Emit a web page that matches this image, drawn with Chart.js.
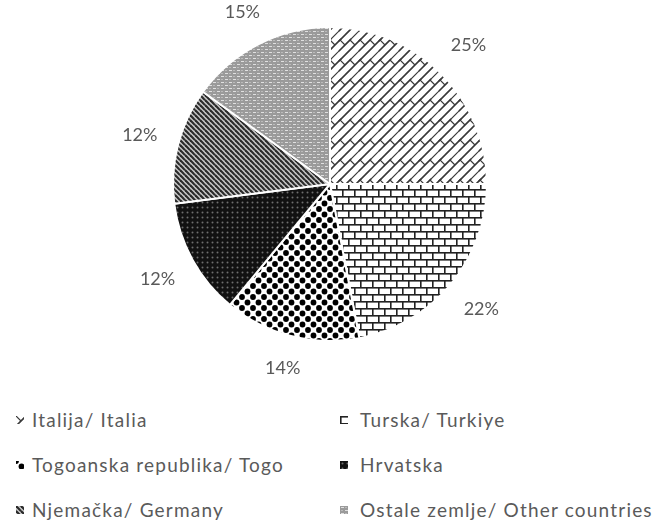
<!DOCTYPE html>
<html>
<head>
<meta charset="utf-8">
<script src="https://cdn.jsdelivr.net/npm/chart.js@4/dist/chart.umd.min.js"></script>
<style>
  body { margin: 0; background: #fff; }
  #wrap { position: relative; width: 660px; height: 522px; }
  #pie { position: absolute; left: 0; top: 0; }
  .item { position: absolute; height: 24px; line-height: 24px; font: 19px Lato, sans-serif; letter-spacing: 1.2px; color: #5a5a5a; white-space: nowrap; }
  .item canvas { position: absolute; top: 8px; }
</style>
</head>
<body>
<div id="wrap">
  <canvas id="pie" width="660" height="392"></canvas>
  <div id="legend"></div>
</div>
<script>
// udio po zemljama (%)
const zemlje = ["Italija/ Italia", "Turska/ Turkiye", "Togoanska republika/ Togo", "Hrvatska", "Njemačka/ Germany", "Ostale zemlje/ Other countries"];
const udio = [25, 22, 14, 12, 12, 15];

// pattern helper - draws one tile and repeats it
function uzorak(w, h, crtaj) {
    const c = document.createElement("canvas");
    c.width = w; c.height = h;
    const g = c.getContext("2d");
    crtaj(g, w, h);
    return g.createPattern(c, "repeat");
}

// draw a segment in the tile and its wrapped copies
function seg(g, w, h, x1, y1, x2, y2) {
    for (const ox of [-w, 0, w]) {
        for (const oy of [-h, 0, h]) {
            g.beginPath();
            g.moveTo(x1 + ox, y1 + oy);
            g.lineTo(x2 + ox, y2 + oy);
            g.stroke();
        }
    }
}

const s = 10;
const uzorci = [
    // dijagonalna cigla
    uzorak(2 * s, 2 * s, (g, w, h) => {
        g.fillStyle = "#fff"; g.fillRect(0, 0, w, h);
        g.strokeStyle = "#3a3a3a"; g.lineWidth = 1.2;
        for (let c = 0; c <= 4 * s; c += s) seg(g, w, h, -1, c + 1, c + 1, -1);
        seg(g, w, h, 0, 0, s / 2, s / 2);
        seg(g, w, h, s, 0, s + s / 2, s / 2);
    }),
    // vodoravna cigla
    uzorak(12, 14, (g, w, h) => {
        g.fillStyle = "#fff"; g.fillRect(0, 0, w, h);
        g.fillStyle = "#222";
        g.fillRect(0, 0, w, 1.6);
        g.fillRect(0, 7, w, 1.6);
        g.fillRect(0, 0, 1.6, 7);
        g.fillRect(6, 7, 1.6, 7);
    }),
    // krupne točke
    uzorak(11, 11, (g, w, h) => {
        g.fillStyle = "#fff"; g.fillRect(0, 0, w, h);
        g.fillStyle = "#000";
        for (const [x, y] of [[0, 0], [w, 0], [0, h], [w, h], [w / 2, h / 2]]) {
            g.beginPath(); g.arc(x, y, 2.9, 0, Math.PI * 2); g.fill();
        }
    }),
    // crno sa sivim točkicama
    uzorak(5, 5, (g, w, h) => {
        g.fillStyle = "#111"; g.fillRect(0, 0, w, h);
        g.fillStyle = "#6e6e6e";
        g.beginPath(); g.arc(2.5, 2.5, 1, 0, Math.PI * 2); g.fill();
    }),
    // tamne dijagonalne pruge
    uzorak(5, 5, (g, w, h) => {
        g.fillStyle = "#cfcfcf"; g.fillRect(0, 0, w, h);
        g.strokeStyle = "#2a2a2a"; g.lineWidth = 2.2;
        seg(g, w, h, 0, 0, w, h);
    }),
    // svijetlo siva mreža
    uzorak(8, 6, (g, w, h) => {
        g.fillStyle = "#9a9a9a"; g.fillRect(0, 0, w, h);
        g.fillStyle = "#e0e0e0";
        g.fillRect(1, 1, 3, 1);
        g.fillRect(5, 4, 3, 1);
        g.fillStyle = "#bababa";
        g.fillRect(5, 1, 2, 1);
        g.fillRect(1, 4, 2, 1);
    })
];

// percentage labels just outside each slice edge
const oznake = {
    id: "oznake",
    afterDatasetsDraw(chart) {
        const ctx = chart.ctx;
        const meta = chart.getDatasetMeta(0);
        ctx.save();
        ctx.font = "18px Lato, sans-serif";
        ctx.fillStyle = "#595959";
        ctx.textAlign = "center";
        ctx.textBaseline = "middle";
        meta.data.forEach((arc, i) => {
            const p = arc.getProps(["x", "y", "startAngle", "endAngle", "outerRadius"], true);
            const a = (p.startAngle + p.endAngle) / 2;
            const txt = udio[i] + "%";
            const hw = ctx.measureText(txt).width / 2, hh = 9;
            const c = Math.cos(a), sn = Math.sin(a);
            const r = p.outerRadius + 20 + Math.abs(c) * hw + Math.abs(sn) * hh;
            ctx.fillText(txt, p.x + c * r, p.y + sn * r);
        });
        ctx.restore();
    }
};

new Chart(document.getElementById("pie"), {
    type: "pie",
    data: {
        labels: zemlje,
        datasets: [{
            data: udio,
            backgroundColor: uzorci,
            borderColor: "#fff",
            borderWidth: 2
        }]
    },
    options: {
        responsive: false,
        animation: false,
        layout: { padding: { top: 26, bottom: 50 } },
        plugins: {
            legend: { display: false },
            tooltip: { enabled: false }
        }
    },
    plugins: [oznake]
});

// legend in two columns
const legend = document.getElementById("legend");
zemlje.forEach((naziv, i) => {
    const red = Math.floor(i / 2), stupac = i % 2;
    const el = document.createElement("div");
    el.className = "item";
    el.style.top = (408 + red * 45) + "px";
    el.style.left = (stupac ? 340 : 16) + "px";
    const sw = document.createElement("canvas");
    sw.width = 8; sw.height = 8;
    sw.style.left = "0px";
    const g = sw.getContext("2d");
    g.fillStyle = uzorci[i];
    g.fillRect(0, 0, 8, 8);
    el.appendChild(sw);
    const t = document.createElement("span");
    t.textContent = naziv;
    t.style.marginLeft = (stupac ? 20 : 16) + "px";
    el.appendChild(t);
    legend.appendChild(el);
});
</script>
</body>
</html>
